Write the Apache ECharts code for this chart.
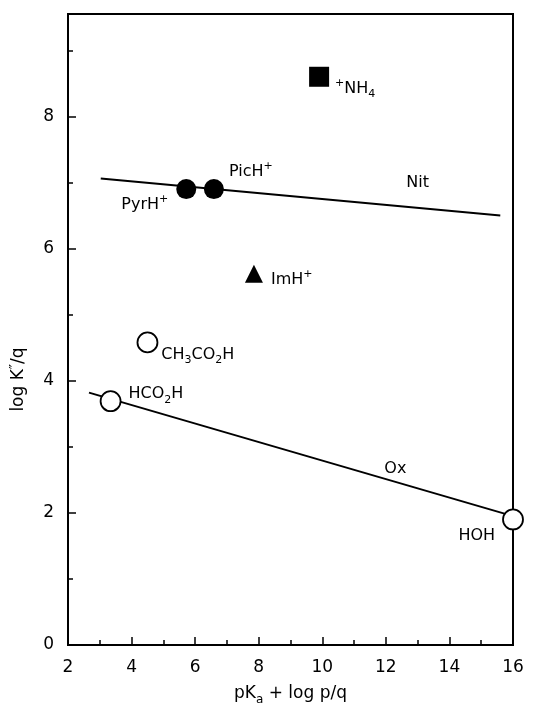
<!DOCTYPE html>
<html>
<head>
<meta charset="utf-8">
<script src="https://cdn.jsdelivr.net/npm/echarts@6/dist/echarts.min.js"></script>
<style>
  html, body { margin: 0; padding: 0; background: #fff; }
  #chart { width: 546px; height: 711px; }
</style>
</head>
<body>
<div id="chart"></div>
<script>
// Acids / cations: x = pKa + log p/q, y = log K''/q
const compounds = ['NH4', 'PyrH', 'PicH', 'ImH', 'CH3CO2H', 'HCO2H', 'HOH'];
const pKaLogPQ  = [9.9, 5.72, 6.59, 7.85, 4.5, 3.34, 16.0];
const logKq     = [8.6, 6.9, 6.9, 5.62, 4.58, 3.69, 1.9];
const markerKind = ['filledSquare', 'filledCircle', 'filledCircle', 'filledTriangle',
                    'openCircle', 'openCircle', 'openCircle'];

// Correlation lines (end points)
const nitX = [3.03, 15.6];
const nitY = [7.06, 6.5];
const oxX  = [2.66, 16.0];
const oxY  = [3.82, 1.95];

// Line names and where they sit
const lineNames = ['Nit', 'Ox'];
const lineNameX = [13.0, 12.3];
const lineNameY = [7.0, 2.67];

// Axis tick labels
const xTickLabels = [2, 4, 6, 8, 10, 12, 14, 16];
const yTickLabels = [0, 2, 4, 6, 8];

const FONT = 'DejaVu Sans';

const rich = {
  t:   { fontFamily: FONT, fontSize: 16, color: '#000', lineHeight: 22, verticalAlign: 'middle' },
  sup: { fontFamily: FONT, fontSize: 11, color: '#000', lineHeight: 10, verticalAlign: 'top' },
  sub: { fontFamily: FONT, fontSize: 11, color: '#000', lineHeight: 10, verticalAlign: 'bottom' }
};

// rich-text label and placement for each compound
const labelFor = {
  NH4:     { text: '{sup|+}{t|NH}{sub|4}', position: 'right', offset: [1, 12] },
  PyrH:    { text: '{t|PyrH}{sup|+}', position: 'left', offset: [-3, 16] },
  PicH:    { text: '{t|PicH}{sup|+}', position: 'right', offset: [0, -17] },
  ImH:     { text: '{t|ImH}{sup|+}', position: 'right', offset: [3, 6] },
  CH3CO2H: { text: '{t|CH}{sub|3}{t|CO}{sub|2}{t|H}', position: 'right', offset: [-2, 12] },
  HCO2H:   { text: '{t|HCO}{sub|2}{t|H}', position: 'right', offset: [2, -7] },
  HOH:     { text: '{t|HOH}', position: 'left', offset: [-2, 16] }
};

const markerStyle = {
  filledSquare:   { symbol: 'rect', symbolSize: 20, itemStyle: { color: '#000', opacity: 1 } },
  filledCircle:   { symbol: 'circle', symbolSize: 20, itemStyle: { color: '#000', opacity: 1 } },
  filledTriangle: { symbol: 'triangle', symbolSize: 18, itemStyle: { color: '#000', opacity: 1 } },
  openCircle:     { symbol: 'circle', symbolSize: 20,
                    itemStyle: { color: '#fff', borderColor: '#000', borderWidth: 1.8, opacity: 1 } }
};

const pointData = compounds.map(function (name, i) {
  const kind = markerStyle[markerKind[i]];
  const lab = labelFor[name];
  return {
    name: name,
    value: [pKaLogPQ[i], logKq[i]],
    symbol: kind.symbol,
    symbolSize: kind.symbolSize,
    itemStyle: kind.itemStyle,
    label: {
      show: true,
      formatter: lab.text,
      position: lab.position,
      offset: lab.offset,
      rich: rich
    }
  };
});

const lineStyle = { color: '#000', width: 2 };

const chart = echarts.init(document.getElementById('chart'), null, { renderer: 'canvas' });

chart.setOption({
  animation: false,
  backgroundColor: '#fff',
  grid: {
    left: 65, right: 33, top: 14, bottom: 58,
    show: true, borderColor: '#000', borderWidth: 2, backgroundColor: 'transparent'
  },
  xAxis: {
    type: 'value', min: 2, max: 16, interval: 2,
    name: '{t|pK}{sub|a}{t| + log p/q}',
    nameLocation: 'middle', nameGap: 37,
    nameTextStyle: { rich: {
      t:   { fontFamily: FONT, fontSize: 17, color: '#000', lineHeight: 24, verticalAlign: 'middle' },
      sub: { fontFamily: FONT, fontSize: 12, color: '#000', lineHeight: 10, verticalAlign: 'bottom' }
    } },
    axisLine: { lineStyle: { color: '#000', width: 2 } },
    axisTick: { inside: true, length: 8, lineStyle: { color: '#000', width: 1.5 } },
    minorTick: { show: true, splitNumber: 2, length: 5, lineStyle: { color: '#000', width: 1.5 } },
    splitLine: { show: false },
    axisLabel: {
      margin: 14, fontFamily: FONT, fontSize: 17, color: '#000',
      formatter: function (v) { return xTickLabels.indexOf(v) >= 0 ? String(v) : ''; }
    }
  },
  yAxis: {
    type: 'value', min: 0, max: 9.55, interval: 2,
    name: '{t|log K}{sup|\u2033}{t|/q}',
    nameLocation: 'middle', nameGap: 38,
    nameTextStyle: {
      padding: [0, 100, 0, 0],
      rich: {
        t:   { fontFamily: FONT, fontSize: 17, color: '#000', lineHeight: 22, verticalAlign: 'middle' },
        sup: { fontFamily: FONT, fontSize: 14, color: '#000', lineHeight: 12, verticalAlign: 'top' }
      }
    },
    axisLine: { lineStyle: { color: '#000', width: 2 } },
    axisTick: { inside: true, length: 8, lineStyle: { color: '#000', width: 1.5 } },
    minorTick: { show: true, splitNumber: 2, length: 5, lineStyle: { color: '#000', width: 1.5 } },
    splitLine: { show: false },
    axisLabel: {
      margin: 14, fontFamily: FONT, fontSize: 17, color: '#000',
      formatter: function (v) { return yTickLabels.indexOf(v) >= 0 ? String(v) : ''; }
    }
  },
  series: [
    {
      name: 'Nit', type: 'line', symbol: 'none', silent: true,
      data: nitX.map(function (x, i) { return [x, nitY[i]]; }),
      lineStyle: lineStyle, z: 2
    },
    {
      name: 'Ox', type: 'line', symbol: 'none', silent: true,
      data: oxX.map(function (x, i) { return [x, oxY[i]]; }),
      lineStyle: lineStyle, z: 2
    },
    {
      name: 'line names', type: 'scatter', symbolSize: 0, silent: true,
      itemStyle: { opacity: 1 },
      data: lineNames.map(function (n, i) { return { name: n, value: [lineNameX[i], lineNameY[i]] }; }),
      label: {
        show: true, position: 'inside', formatter: '{b}',
        fontFamily: FONT, fontSize: 16, color: '#000', opacity: 1
      }
    },
    {
      name: 'compounds', type: 'scatter', silent: true, z: 5,
      data: pointData
    }
  ]
});
</script>
</body>
</html>
